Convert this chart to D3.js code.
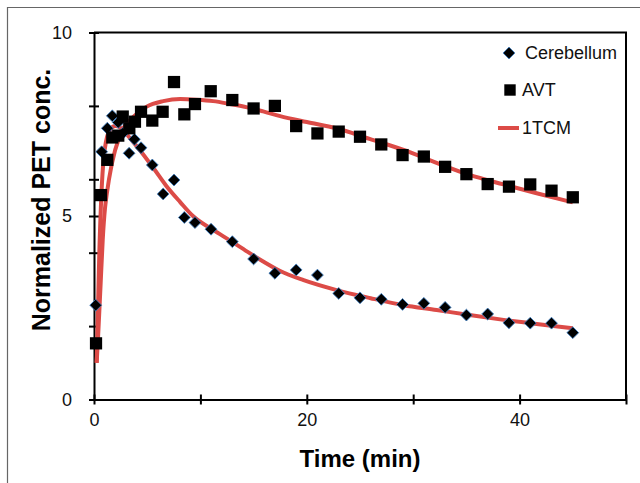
<!DOCTYPE html>
<html>
<head>
<meta charset="utf-8">
<script src="https://cdn.jsdelivr.net/npm/d3@7"></script>
<style>
	body{margin:0;background:#fff;}
	svg{display:block;font-family:"Liberation Sans",Arial,sans-serif;}
</style>
</head>
<body>
<div id="chart"></div>
<script>
//Data
const cerebellumT = [0.16,0.72,1.25,1.72,2.28,2.7,3.3,3.8,4.42,5.48,6.5,7.52,8.49,9.49,11,13,15,17,19,21,23,25,27,29,31,33,35,37,39,41,43,45];
const cerebellumV = [2.57,6.75,7.39,7.73,7.55,7.25,6.71,7.09,6.86,6.39,5.6,5.98,4.96,4.82,4.64,4.3,3.83,3.44,3.53,3.39,2.89,2.77,2.73,2.59,2.62,2.51,2.3,2.33,2.09,2.08,2.08,1.82];

const avtT = [0.19,0.66,1.25,1.72,2.28,2.7,3.32,3.85,4.42,5.48,6.45,7.52,8.49,9.49,10.97,13,15,17,19,21,23,25,27,29,31,33,35,37,39,41,43,45];
const avtV = [1.53,5.57,6.53,7.14,7.19,7.71,7.39,7.57,7.84,7.6,7.84,8.65,7.77,8.05,8.4,8.16,7.93,8.0,7.45,7.25,7.3,7.16,6.95,6.66,6.62,6.34,6.14,5.87,5.8,5.86,5.69,5.51];

//1TCM fitted curves
const fitCerT = [0.25,0.5,0.75,1.0,1.5,2.0,2.5,3.0,3.5,4.3,5.6,6.8,8.1,9.3,11.2,12.8,14.4,15.9,17.5,19.7,22.8,26,29.1,32.2,35.3,38.5,41.6,45];
const fitCerV = [1.0,4.0,5.9,6.8,7.35,7.45,7.4,7.25,7.08,6.8,6.3,5.82,5.38,5.0,4.62,4.33,4.03,3.76,3.5,3.25,2.98,2.76,2.57,2.44,2.3,2.17,2.06,1.94];

const fitAvtT = [0.25,0.4,0.63,0.82,1.03,1.2,1.66,2.44,3.7,4.95,6.5,8.1,9.65,11.2,12.8,14.4,15.9,17.5,20,22.8,25.9,29.1,32.2,35.3,38.5,41.6,45];
const fitAvtV = [1.0,1.8,3.2,4.35,5.2,5.6,6.4,7.2,7.7,7.98,8.13,8.19,8.17,8.13,8.05,7.96,7.85,7.72,7.56,7.39,7.1,6.8,6.45,6.12,5.86,5.62,5.37];

const xTicks = [0,10,20,30,40,50];
const xLabels = [0,20,40];
const yTicks = [0,2,4,5,6,8,10];
const yLabels = [0,5,10];

const legendNames = ['Cerebellum','AVT','1TCM'];

const width = 640, height = 483;
const margin = {t:32.5,r:14,b:83.5,l:94};
const w = width - margin.l - margin.r;
const h = height - margin.t - margin.b;
const red = '#dc4b47';

const svg = d3.select('#chart').append('svg')
	.attr('width',width)
	.attr('height',height);

//outer frame of the figure panel
svg.append('path')
	.attr('d',`M7.5,${height} V7.5 H${width}`)
	.style('fill','none')
	.style('stroke','#666')
	.style('stroke-width',1.2);

const plot = svg.append('g')
	.attr('transform',`translate(${margin.l},${margin.t})`);

const scaleX = d3.scaleLinear().domain([0,50]).range([0,w]);
const scaleY = d3.scaleLinear().domain([0,10]).range([h,0]);

//plot border (top, right)
plot.append('path')
	.attr('d',`M0,0 H${w} V${h}`)
	.style('fill','none')
	.style('stroke','#000')
	.style('stroke-width',2);

//Axes
const axisX = d3.axisBottom(scaleX)
	.tickValues(xTicks)
	.tickSizeInner(5)
	.tickSizeOuter(0)
	.tickPadding(9)
	.tickFormat(d => xLabels.includes(d) ? d : '');
const axisXNode = plot.append('g')
	.attr('class','axis axis-x')
	.attr('transform',`translate(0,${h})`)
	.call(axisX);

const axisY = d3.axisLeft(scaleY)
	.tickValues(yTicks)
	.tickSizeInner(5)
	.tickSizeOuter(0)
	.tickPadding(17)
	.tickFormat(d => yLabels.includes(d) ? d : '');
const axisYNode = plot.append('g')
	.attr('class','axis axis-y')
	.call(axisY);

axisXNode.selectAll('.tick line').attr('y1',-5);
axisYNode.selectAll('.tick line').attr('x1',5);
plot.selectAll('.axis path, .axis line')
	.style('stroke','#000')
	.style('stroke-width',2);
plot.selectAll('.axis text')
	.style('font-size','18px')
	.style('font-family','"Liberation Sans",Arial,sans-serif')
	.style('fill','#111');

//Axis titles
svg.append('text')
	.attr('x',margin.l + w/2)
	.attr('y',467)
	.attr('text-anchor','middle')
	.style('font-size','24px')
	.style('font-weight','bold')
	.text('Time (min)');

svg.append('text')
	.attr('transform','translate(50,200) rotate(-90)')
	.attr('text-anchor','middle')
	.style('font-size','25px')
	.style('font-weight','bold')
	.text('Normalized PET conc.');

//Fitted curves
const line = d3.line()
	.x(d => scaleX(d[0]))
	.y(d => scaleY(d[1]))
	.curve(d3.curveMonotoneX);

[[fitCerT,fitCerV],[fitAvtT,fitAvtV]].forEach(([ts,vs]) => {
	plot.append('path')
		.datum(ts.map((t,i) => [t,vs[i]]))
		.attr('d',line)
		.style('fill','none')
		.style('stroke',red)
		.style('stroke-width',4)
		.style('stroke-linejoin','round');
});

//Markers
const diamond = d3.symbol().type(d3.symbolSquare).size(70);
const square = d3.symbol().type(d3.symbolSquare).size(150);

plot.selectAll('.cer')
	.data(cerebellumT.map((t,i) => [t,cerebellumV[i]]))
	.enter()
	.append('path')
	.attr('class','cer')
	.attr('d',diamond)
	.attr('transform',d => `translate(${scaleX(d[0])},${scaleY(d[1])}) rotate(45)`)
	.style('fill','#000')
	.style('stroke','#3d7fc4')
	.style('stroke-width',0.8);

plot.selectAll('.avt')
	.data(avtT.map((t,i) => [t,avtV[i]]))
	.enter()
	.append('path')
	.attr('class','avt')
	.attr('d',square)
	.attr('transform',d => `translate(${scaleX(d[0])},${scaleY(d[1])})`)
	.style('fill','#000');

//Legend
const legend = svg.append('g').attr('class','legend');
const legendY = [53,90,128];

legend.append('path')
	.attr('d',diamond)
	.attr('transform',`translate(509,${legendY[0]}) rotate(45)`)
	.style('fill','#000')
	.style('stroke','#3d7fc4')
	.style('stroke-width',0.8);
legend.append('path')
	.attr('d',d3.symbol().type(d3.symbolSquare).size(130))
	.attr('transform',`translate(510,${legendY[1]})`)
	.style('fill','#000');
legend.append('line')
	.attr('x1',498).attr('x2',519)
	.attr('y1',legendY[2]).attr('y2',legendY[2])
	.style('stroke',red)
	.style('stroke-width',4);

legend.selectAll('text')
	.data(legendNames)
	.enter()
	.append('text')
	.attr('x',(d,i) => [525,522,522][i])
	.attr('y',(d,i) => legendY[i] + 6)
	.style('font-size','18px')
	.style('fill','#111')
	.text(d => d);
</script>
</body>
</html>
